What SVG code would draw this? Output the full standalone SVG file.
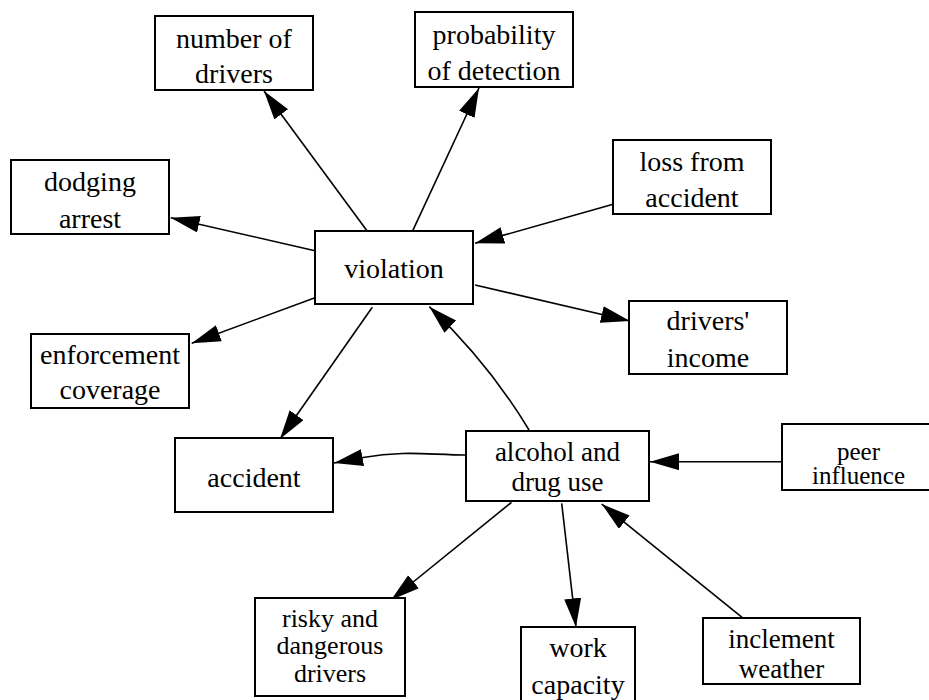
<svg xmlns="http://www.w3.org/2000/svg" width="929" height="700" viewBox="0 0 929 700" font-family="Liberation Serif, Times New Roman, serif">
  <defs>
    <marker id="arrow" markerWidth="30" markerHeight="18" refX="29" refY="8.5" orient="auto" markerUnits="userSpaceOnUse">
      <path d="M0,0 L29,8.5 L0,17 z" fill="#000000"/>
    </marker>
  </defs>
  <rect width="929" height="700" fill="#ffffff"/>

  <!-- connectors: straight or gently curved lines, filled arrowhead at the target -->
  <g id="edges" fill="none" stroke="#000000" stroke-width="1.6" marker-end="url(#arrow)">
    <path d="M367.7,231.7 L264,91"/>
    <path d="M412.3,231.7 L479,88"/>
    <path d="M316,251 L170.7,217.7"/>
    <path d="M315,297.7 L191.7,343.3"/>
    <path d="M372.3,307.3 L280,439"/>
    <path d="M614,204 L475,243.3"/>
    <path d="M475,285 L630,321"/>
    <path d="M529,430 Q489,363.5 429.3,306.7"/>
    <path d="M466,455 C430,455 405,450 363,457.5 L334,463"/>
    <path d="M782,461.7 L650,461.7"/>
    <path d="M511.5,502.3 L391,600"/>
    <path d="M561.7,503.3 L576,627.3"/>
    <path d="M743.3,618.3 L601.7,504"/>
  </g>

  <!-- nodes: white boxes with centred serif labels -->
  <g fill="#ffffff" stroke="#000000" stroke-width="2">
    <rect id="box_number_of_drivers" x="155" y="16" width="158" height="74"/>
    <rect id="box_probability_of_detection" x="415" y="12" width="158" height="75"/>
    <rect id="box_dodging_arrest" x="11" y="160" width="158" height="74"/>
    <rect id="box_violation" x="315" y="231" width="158" height="73"/>
    <rect id="box_loss_from_accident" x="613" y="140" width="158" height="74"/>
    <rect id="box_drivers_income" x="629" y="301" width="158" height="73"/>
    <rect id="box_enforcement_coverage" x="31" y="334" width="158" height="74"/>
    <rect id="box_accident" x="175" y="438" width="158" height="74"/>
    <rect id="box_alcohol_and_drug_use" x="466" y="431" width="183" height="70"/>
    <rect id="box_peer_influence" x="782" y="424" width="154" height="66"/>
    <rect id="box_risky_and_dangerous_drivers" x="255" y="598" width="150" height="98"/>
    <rect id="box_work_capacity" x="521" y="627" width="114" height="80"/>
    <rect id="box_inclement_weather" x="703" y="618" width="157" height="66"/>
  </g>

  <g text-anchor="middle" fill="#000000">
    <text id="number_of_drivers" font-size="28" x="234" y="48">number of<tspan x="234" y="83">drivers</tspan></text>
    <text id="probability_of_detection" font-size="28" x="494" y="44">probability<tspan x="494" y="80">of detection</tspan></text>
    <text id="dodging_arrest" font-size="28" x="90" y="191">dodging<tspan x="90" y="228">arrest</tspan></text>
    <text id="violation" font-size="28" x="394" y="278">violation</text>
    <text id="loss_from_accident" font-size="28" x="692" y="171">loss from<tspan x="692" y="207">accident</tspan></text>
    <text id="drivers_income" font-size="28" x="708" y="330">drivers'<tspan x="708" y="367">income</tspan></text>
    <text id="enforcement_coverage" font-size="28" x="110" y="364">enforcement<tspan x="110" y="399">coverage</tspan></text>
    <text id="accident" font-size="28" x="254" y="487">accident</text>
    <text id="alcohol_and_drug_use" font-size="27" x="557.5" y="461">alcohol and<tspan x="557.5" y="491">drug use</tspan></text>
    <text id="peer_influence" font-size="25" x="858.5" y="460">peer<tspan x="858.5" y="484">influence</tspan></text>
    <text id="risky_and_dangerous_drivers" font-size="26" x="330" y="627">risky and<tspan x="330" y="654">dangerous</tspan><tspan x="330" y="682">drivers</tspan></text>
    <text id="work_capacity" font-size="28" x="578" y="657">work<tspan x="578" y="694">capacity</tspan></text>
    <text id="inclement_weather" font-size="27" x="781.5" y="648">inclement<tspan x="781.5" y="678">weather</tspan></text>
  </g>
</svg>
